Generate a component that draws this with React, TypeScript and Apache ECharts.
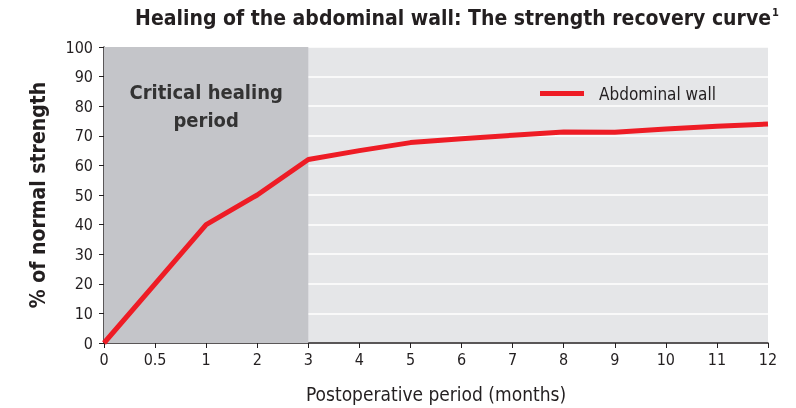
import React, { useEffect, useRef } from "react";
import * as echarts from "echarts";

const months = ["0", "0.5", "1", "2", "3", "4", "5", "6", "7", "8", "9", "10", "11", "12"];
const abdominalWall = [0, 20, 40, 50, 62, 65, 67.7, 69, 70.2, 71.3, 71.2, 72.3, 73.2, 74];
const yTicks = { min: 0, max: 100, interval: 10 };
const criticalStart = "0";
const criticalEnd = "3";

const FONT = '"Liberation Sans Narrow", "DejaVu Sans Condensed", "Roboto Condensed", "Noto Sans", sans-serif';

export default function App() {
  const ref = useRef<HTMLDivElement>(null);
  useEffect(() => {
    if (!ref.current) return;
    const chart = echarts.init(ref.current, undefined, { renderer: "svg" });
    chart.setOption({
      animation: false,
      textStyle: { fontFamily: FONT },
      title: {
        text: "{t|Healing of the abdominal wall: The strength recovery curve}{s|1}",
        left: 452,
        textAlign: "center",
        top: 2,
        textStyle: {
          rich: {
            t: { fontFamily: FONT, fontSize: 21, fontWeight: "bold", color: "#231f20" },
            s: { fontFamily: FONT, fontSize: 11, fontWeight: "bold", color: "#231f20", verticalAlign: "top", padding: [0, 0, 10, 1] },
          },
        },
      },
      legend: {
        left: 535,
        top: 80,
        icon: "rect",
        itemWidth: 44,
        itemHeight: 5,
        textStyle: { fontFamily: FONT, fontSize: 17, color: "#231f20", padding: [0, 0, 0, 10] },
        data: ["Abdominal wall"],
      },
      grid: {
        left: 104,
        right: 28,
        top: 47,
        bottom: 65,
        show: true,
        backgroundColor: "#e5e6e8",
        borderWidth: 0,
      },
      xAxis: {
        type: "category",
        data: months,
        boundaryGap: false,
        name: "Postoperative period (months)",
        nameLocation: "middle",
        nameGap: 41,
        nameTextStyle: { fontFamily: FONT, fontSize: 19, color: "#231f20" },
        axisLine: { lineStyle: { color: "#231f20", width: 1.5 } },
        axisTick: { show: true, length: 5, lineStyle: { color: "#231f20" } },
        axisLabel: { fontFamily: FONT, fontSize: 16, color: "#231f20", margin: 8 },
        splitLine: { show: false },
      },
      yAxis: {
        type: "value",
        min: yTicks.min,
        max: yTicks.max,
        interval: yTicks.interval,
        name: "% of normal strength",
        nameLocation: "middle",
        nameGap: 56,
        nameTextStyle: { fontFamily: FONT, fontSize: 21, fontWeight: "bold", color: "#231f20" },
        axisLine: { show: true, lineStyle: { color: "#231f20", width: 1.5 } },
        axisTick: { show: true, length: 5, lineStyle: { color: "#231f20" } },
        axisLabel: { fontFamily: FONT, fontSize: 16, color: "#231f20", margin: 11 },
        splitLine: { lineStyle: { color: "#ffffff", width: 1.5 } },
      },
      series: [
        {
          name: "Abdominal wall",
          type: "line",
          data: abdominalWall,
          symbol: "none",
          lineStyle: { color: "#ee1c25", width: 5 },
          itemStyle: { color: "#ee1c25" },
          z: 3,
          markArea: {
            silent: true,
            itemStyle: { color: "#c4c5c9" },
            label: {
              show: true,
              position: "insideTop",
              distance: 31,
              formatter: "Critical healing\nperiod",
              fontFamily: FONT,
              fontSize: 20,
              fontWeight: "bold",
              lineHeight: 28,
              color: "#333333",
              align: "center",
            },
            data: [[{ xAxis: criticalStart }, { xAxis: criticalEnd }]],
          },
        },
      ],
    });
    return () => chart.dispose();
  }, []);
  return <div ref={ref} style={{ width: 796, height: 408, position: "fixed", left: 0, top: 0 }} />;
}
